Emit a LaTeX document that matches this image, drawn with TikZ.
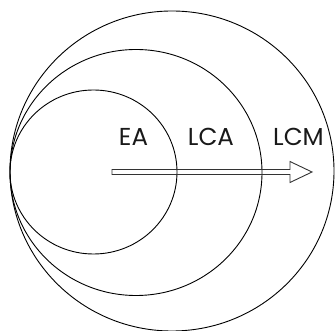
\documentclass[tikz,border=0pt]{standalone}
\usepackage{fontspec}
\setmainfont{Poppins}
\begin{document}
\begin{tikzpicture}[x=1pt,y=-1pt,
  ring/.style={draw=black,line width=0.9pt},
  lbl/.style={font=\fontsize{24.5}{27}\selectfont,inner sep=0pt,text=black!90},
  arr/.style={draw=black!80,line width=0.9pt,line join=miter}]
\useasboundingbox (0,0) rectangle (335,331);
\draw[ring] (93.5,172) ellipse [x radius=83.5, y radius=82];
\draw[ring] (136,172.5) ellipse [x radius=126, y radius=123];
\draw[ring] (172,171) ellipse [x radius=162, y radius=160];
\draw[arr] (112,169.5) -- (290,169.5) -- (290,161.5) -- (312,172) -- (290,182.5) -- (290,174.5) -- (112,174.5) -- cycle;
\node[lbl] (ea) at (133.5,136.5) {EA};
\node[lbl] (lca) at (211,136.5) {LCA};
\node[lbl] (lcm) at (298.5,136.5) {LCM};
\end{tikzpicture}
\end{document}
